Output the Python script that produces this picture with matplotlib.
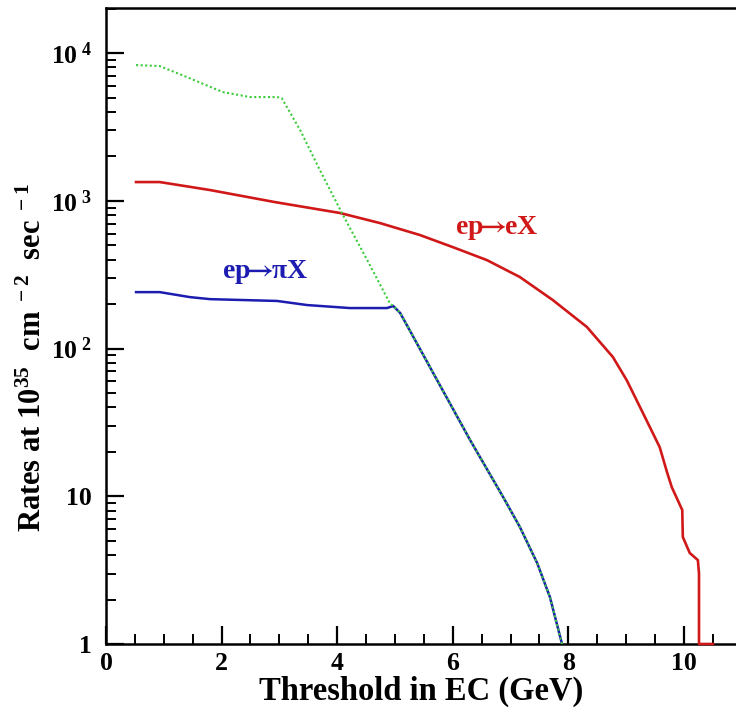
import matplotlib
matplotlib.use("Agg")
import matplotlib.pyplot as plt
from matplotlib.ticker import FixedLocator, MultipleLocator, LogLocator, NullFormatter

plt.rcParams['font.family'] = ['Liberation Serif', 'DejaVu Serif']
plt.rcParams['font.weight'] = 'bold'
plt.rcParams['mathtext.fontset'] = 'custom'
plt.rcParams['mathtext.rm'] = 'Liberation Serif:bold'
plt.rcParams['mathtext.bf'] = 'Liberation Serif:bold'
plt.rcParams['mathtext.it'] = 'Liberation Serif:bold'

# ep -> eX (red)
e_x = [0.52, 0.93, 1.8, 2.92, 4.05, 4.74, 5.43, 6.0, 6.59, 7.16, 7.73, 8.32, 8.77,
       9.01, 9.29, 9.58, 9.71, 9.79, 9.97, 9.98, 10.1, 10.24, 10.26, 10.26, 10.5]
e_y = [1340, 1340, 1183, 981, 827, 707, 587, 486, 397, 305, 213, 140, 87.6,
       61, 36.6, 21.5, 14.4, 11.5, 8.07, 5.3, 4.13, 3.7, 3.0, 1.0, 1.0]

# ep -> pi X (blue)
pi_x = [0.52, 0.93, 1.45, 1.8, 2.96, 3.48, 4.22, 4.86, 4.97, 5.09, 5.73, 6.30,
        6.87, 7.16, 7.46, 7.68, 7.89]
pi_y = [241, 241, 223, 216, 210, 197, 188, 188, 194, 174, 61, 24,
        9.9, 6.2, 3.53, 2.08, 1.0]

# total (green dotted)
t_x = [0.52, 0.93, 1.40, 2.02, 2.49, 2.96, 3.04, 3.36, 3.70, 4.10, 4.52, 4.91,
       4.97, 5.09, 5.73, 6.30, 6.87, 7.16, 7.46, 7.68, 7.89]
t_y = [8300, 8170, 6880, 5450, 5040, 5040, 4960, 3010, 1616, 801, 397, 203,
       194, 174, 61, 24, 9.9, 6.2, 3.53, 2.08, 1.0]

y_ticks = [1, 10, 100, 1000, 10000]
y_tick_labels = ['1', '10', r'$10^{\ 2}$', r'$10^{\ 3}$', r'$10^{\ 4}$']
x_ticks = [0, 2, 4, 6, 8, 10]

fig = plt.figure(figsize=(7.36, 7.10), dpi=100)
ax = fig.add_axes([106/736, 1-644/710, 1-106/736, (644-8)/710])

ax.plot(e_x, e_y, color='#d01818', lw=1.9, clip_on=False, zorder=3)
ax.plot(pi_x, pi_y, color='#1c1cb0', lw=1.8, zorder=3)
ax.plot(t_x, t_y, color='#3ccc3c', lw=1.5, linestyle=(0, (1, 1.2)), zorder=4)

ax.set_yscale('log')
ax.set_xlim(0, 10.9)
ax.set_ylim(1, 2.02e4)

ax.yaxis.set_major_locator(FixedLocator(y_ticks))
ax.set_yticklabels(y_tick_labels)
ax.yaxis.set_minor_locator(LogLocator(base=10, subs=range(2, 10)))
ax.yaxis.set_minor_formatter(NullFormatter())
ax.xaxis.set_major_locator(FixedLocator(x_ticks))
ax.xaxis.set_minor_locator(MultipleLocator(0.5))

ax.tick_params(which='major', direction='in', length=13, width=1.6, labelsize=18.5, pad=6)
ax.tick_params(which='minor', direction='in', length=7, width=1.4)
ax.tick_params(axis='y', which='major', pad=10)
ax.tick_params(top=False, right=False, which='both')

for s in ['left', 'bottom', 'top']:
    ax.spines[s].set_linewidth(1.8)
ax.spines['right'].set_visible(False)

ax.set_xlabel('Threshold in EC (GeV)', fontsize=23.5, fontweight='bold', labelpad=0)
ax.set_ylabel(r'Rates at 10$^{35}$  cm$^{\ -2}$  sec$^{\ -1}$', fontsize=22, fontweight='bold')
ax.yaxis.set_label_coords(-0.092, 0.45)

ax.text(2.75, 330, r'ep$\!\!\rightarrow\!\!$' + '\u03c0X', color='#1c1cb0', fontsize=20,
        fontweight='bold', ha='center', va='center', math_fontfamily='stix')
ax.text(6.76, 654, r'ep$\!\!\rightarrow\!\!$eX', color='#d01818', fontsize=20,
        fontweight='bold', ha='center', va='center', math_fontfamily='stix')

fig.savefig('out.png', dpi=100)
